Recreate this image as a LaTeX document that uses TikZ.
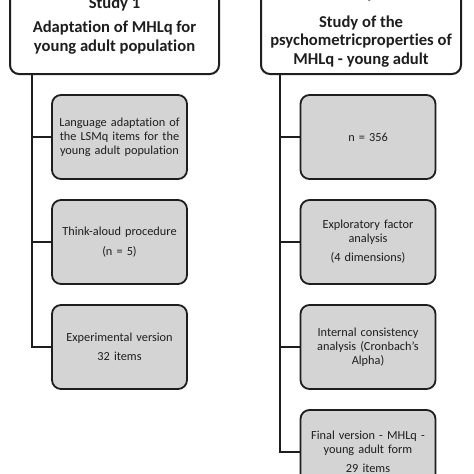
\documentclass[tikz,border=0pt]{standalone}
\usepackage{fontspec}
\setmainfont{Carlito}[Ligatures=NoCommon]
\definecolor{boxgray}{HTML}{D4D4D4}
\definecolor{ink}{HTML}{1E1E1E}
\begin{document}
\begin{tikzpicture}[x=1pt,y=-1pt,
  head/.style={draw=ink, line width=2pt, rounded corners=9pt, fill=white, align=center,
    font=\bfseries\fontsize{16.6}{18.5}\selectfont, inner sep=0pt, text=ink},
  item/.style={draw=ink, line width=1.8pt, rounded corners=9pt, fill=boxgray,
    minimum width=135pt, minimum height=84pt, align=center, text width=131pt,
    font=\fontsize{12.3}{14}\selectfont, inner sep=2pt, text=ink},
  link/.style={draw=ink, line width=1.8pt}]
\useasboundingbox (0,0) rectangle (474,474);
\clip (0,0) rectangle (474,474);
% headers
\node[head, minimum width=209pt, minimum height=97pt] (h1) at (114.5,25.5)
  {Study 1\\[6pt]Adaptation of MHLq for\\young adult population};
\node[head, minimum width=200pt, minimum height=94pt] (h2) at (361,27)
  {Study 2\\[10pt]Study of the\\psychometricproperties of\\MHLq - young adult};
% left items
\node[item] (a1) at (119.5,137) {Language adaptation of\\the LSMq items for the\\young adult population};
\node[item] (a2) at (119.5,242) {Think-aloud procedure\\[6pt](n = 5)};
\node[item] (a3) at (119.5,347) {Experimental version\\[5pt]32 items};
% right items
\node[item] (b1) at (368,137) {n = 356};
\node[item] (b2) at (368,242) {Exploratory factor\\analysis\\[5pt](4 dimensions)};
\node[item] (b3) at (368,347) {Internal consistency\\analysis (Cronbach’s\\Alpha)};
\node[item] (b4) at (368,452) {Final version - MHLq -\\young adult form\\[5pt]29 items};
% trunks
\coordinate (lt) at (32,0);
\coordinate (rt) at (280,0);
\draw[link] (h1.south -| lt) |- (a3.west);
\draw[link] (a1.west) -- (a1.west -| lt);
\draw[link] (a2.west) -- (a2.west -| lt);
\draw[link] (h2.south -| rt) |- (b4.west);
\draw[link] (b1.west) -- (b1.west -| rt);
\draw[link] (b2.west) -- (b2.west -| rt);
\draw[link] (b3.west) -- (b3.west -| rt);
\end{tikzpicture}
\end{document}
